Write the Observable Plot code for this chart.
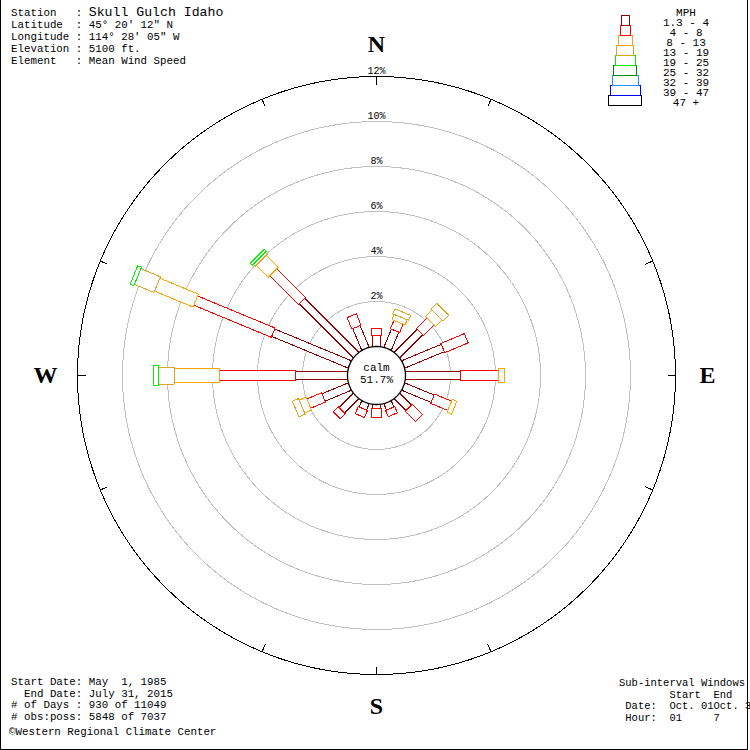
<!DOCTYPE html>
<html><head><meta charset="utf-8">
<script src="https://cdn.jsdelivr.net/npm/d3@7"></script>
<script src="https://cdn.jsdelivr.net/npm/@observablehq/plot@0.6"></script>
<style>
body{margin:0;background:#fff}
#wrap{position:relative;width:750px;height:750px;overflow:hidden;background:#fff}
#wrap svg{position:absolute}
.t{position:absolute;font-family:"Liberation Mono",monospace;font-size:10.8px;white-space:pre;color:#000;line-height:12px}
#border{position:absolute;left:0;top:-2px;width:748px;height:752px;border:1px solid #000;box-sizing:border-box;pointer-events:none}
</style></head><body><div id="wrap"></div>
<script>
// ---- data ----
const directions = ["N","NNE","NE","ENE","E","ESE","SE","SSE","S","SSW","SW","WSW","W","WNW","NW","NNW"];
const speedClasses = ["1.3 - 4","4 - 8","8 - 13","13 - 19","19 - 25","25 - 32","32 - 39","39 - 47","47 +"];
// percent frequency by direction, one array per speed class
const freq_1_4   = [0.49,0.87,1.45,1.90,2.44,1.41,0.74,0.30,0.19,0.30,0.89,1.26,2.31,3.68,3.40,1.04];
const freq_4_8   = [0.30,0.40,0.65,1.13,1.71,0.82,0.64,0.30,0.40,0.34,0.32,0.71,3.38,3.73,1.80,0.55];
const freq_8_13  = [0,0.25,0.42,0,0.26,0.22,0,0,0,0,0,0.33,2.00,1.85,0.75,0];
const freq_13_19 = [0,0.24,0.35,0,0,0,0,0,0,0,0,0.30,0.71,0.94,0.13,0];
const freq_19_25 = [0,0,0,0,0,0,0,0,0,0,0,0,0.22,0.18,0.12,0];
const freq_25_32 = [0,0,0,0,0,0,0,0,0,0,0,0,0,0,0,0];
const freq_32_39 = [0,0,0,0,0,0,0,0,0,0,0,0,0,0,0,0];
const freq_39_47 = [0,0,0,0,0,0,0,0,0,0,0,0,0,0,0,0];
const freq_47    = [0,0,0,0,0,0,0,0,0,0,0,0,0,0,0,0];
const calmPct = 51.7;
const ringPercents = [2,4,6,8,10,12];
const tickDirections = ["N","NNE","ENE","E","ESE","SSE","S","SSW","WSW","W","WNW","NNW"];
const compassLabels = ["N","E","S","W"];
const stationLines = [["Station   : ","Skull Gulch Idaho"],["Latitude  : ","45° 20' 12\" N"],["Longitude : ","114° 28' 05\" W"],["Elevation : ","5100 ft."],["Element   : ","Mean Wind Speed"]];
const periodLines = ["Start Date: May  1, 1985","  End Date: July 31, 2015","# of Days : 930 of 11049","# obs:poss: 5848 of 7037"];
const creditLine = "©Western Regional Climate Center";
const windowLines = ["Sub-interval Windows","        Start  End"," Date:  Oct. 01Oct. 31"," Hour:  01     7"];

// ---- styles ----
const classColors = ["#8b0000","#ff0000","#ffa500","#daa520","#00ee00","#008800","#1e90ff","#0000ee","#000000"];
const classWidthsPx = [8,10,14,17,20,23,26,30,33];
const PX = 22.5;              // pixels per percent
const calmR = 29 / PX;        // calm circle radius (data units)
const cx = 376, cy = 375, W = 750, H = 750;

const classFreqs = [freq_1_4,freq_4_8,freq_8_13,freq_13_19,freq_19_25,freq_25_32,freq_32_39,freq_39_47,freq_47];
const ang = d => directions.indexOf(d) * 22.5 * Math.PI / 180;

// build bar outlines (rectangles along each direction)
const pts = [];
let sid = 0;
directions.forEach((dir, i) => {
  const a = ang(dir), ux = Math.sin(a), uy = Math.cos(a), vx = Math.cos(a), vy = -Math.sin(a);
  let cum = calmR;
  classFreqs.forEach((arr, k) => {
    const v = arr[i];
    if (v > 0) {
      const r0 = cum, r1 = cum + v, hw = classWidthsPx[k] / 2 / PX;
      const corners = [[r0,-hw],[r1,-hw],[r1,hw],[r0,hw],[r0,-hw]];
      corners.forEach(([r,w]) => pts.push({id: sid, cls: speedClasses[k], x: ux*r + vx*w, y: uy*r + vy*w}));
      sid++;
      cum = r1;
    }
  });
});

const circlePts = (rs) => rs.flatMap(p => d3.range(0, 361, 1).map(deg => {
  const a = deg * Math.PI / 180, R = calmR + p;
  return {ring: p, x: R*Math.sin(a), y: R*Math.cos(a)};
}));
const calmPts = d3.range(0, 361, 2).map(deg => ({x: calmR*Math.sin(deg*Math.PI/180), y: calmR*Math.cos(deg*Math.PI/180)}));
const Rout = calmR + 12;

const chart = Plot.plot({
  width: W, height: H, margin: 0,
  x: {domain: [-cx/PX, (W-cx)/PX], axis: null},
  y: {domain: [-(H-cy)/PX, cy/PX], axis: null},
  color: {domain: speedClasses, range: classColors},
  style: {background: "white", overflow: "visible"},
  marks: [
    Plot.line(circlePts(ringPercents.filter(p => p < 12)), {x:"x", y:"y", z:"ring", stroke:"#c0c0c0", strokeWidth:1, shapeRendering:"crispEdges"}),
    Plot.line(circlePts([12]), {x:"x", y:"y", z:"ring", stroke:"#000", strokeWidth:1, shapeRendering:"crispEdges"}),
    Plot.link(tickDirections, {
      x1: d => Rout*Math.sin(ang(d)), y1: d => Rout*Math.cos(ang(d)),
      x2: d => (Rout - 8/PX)*Math.sin(ang(d)), y2: d => (Rout - 8/PX)*Math.cos(ang(d)),
      stroke: "#000", strokeWidth: 1, shapeRendering: "crispEdges"}),
    Plot.text(ringPercents, {x: 0, y: p => calmR + p, text: p => p + "%", dy: -6,
      fontFamily: "Liberation Mono", fontSize: 10, fill: "#000"}),
    Plot.text(compassLabels, {
      x: d => (Rout + 32/PX)*Math.sin(ang(d)), y: d => (Rout + 32/PX)*Math.cos(ang(d)),
      text: d => d, fontFamily: "Liberation Serif", fontSize: 24, fontWeight: "bold", fill: "#000"}),
    Plot.line(pts, {x:"x", y:"y", z:"id", stroke:"cls", fill:"white", strokeWidth:1, curve:"linear", shapeRendering:"crispEdges"}),
    Plot.line(calmPts, {x:"x", y:"y", stroke:"#000", fill:"white", strokeWidth:1.3}),
    Plot.text([calmPct], {x: 0, y: 0, text: d => "calm\n" + d.toFixed(1) + "%", lineHeight: 1.1, dy: -2,
      fontFamily: "Liberation Mono", fontSize: 11, fill: "#000"})
  ]
});
const wrap = document.getElementById("wrap");
chart.style.left = "0px"; chart.style.top = "0px";
wrap.appendChild(chart);

// legend
const legend = Plot.plot({
  width: 42, height: 92, marginTop: 1, marginBottom: 1, marginLeft: 1, marginRight: 1,
  x: {domain: [-20, 20], axis: null},
  y: {domain: speedClasses, padding: 0, axis: null},
  color: {domain: speedClasses, range: classColors},
  style: {background: "transparent", overflow: "visible"},
  marks: [
    Plot.barX(speedClasses.slice().reverse(), {
      y: d => d,
      x1: d => -classWidthsPx[speedClasses.indexOf(d)] / 2,
      x2: d => classWidthsPx[speedClasses.indexOf(d)] / 2,
      stroke: d => d, fill: "white", strokeWidth: 1, shapeRendering: "crispEdges"})
  ]
});
legend.style.left = "604px"; legend.style.top = "14px";
wrap.appendChild(legend);

function addText(txt, left, top, extra) {
  const d = document.createElement("div");
  d.className = "t"; d.style.left = left + "px"; d.style.top = top + "px";
  if (extra) Object.assign(d.style, extra);
  d.textContent = txt; wrap.appendChild(d); return d;
}
// legend labels
addText(["MPH", ...speedClasses].join("\n"), 646, 8, {width: "80px", textAlign: "center", lineHeight: "10px", fontSize: "11px"});
// station block
stationLines.forEach(([a, b], i) => {
  const d = addText(a, 11, 7 + 12*i);
  const s = document.createElement("span"); s.textContent = b;
  if (i === 0) { s.style.fontSize = "13.2px"; }
  d.appendChild(s);
});
addText(periodLines.join("\n"), 11, 677, {lineHeight: "11.7px"});
addText(creditLine, 9, 726);
addText(windowLines.join("\n"), 619, 678, {lineHeight: "11.5px", fontSize: "10.5px"});
const b = document.createElement("div"); b.id = "border"; wrap.appendChild(b);
</script></body></html>
